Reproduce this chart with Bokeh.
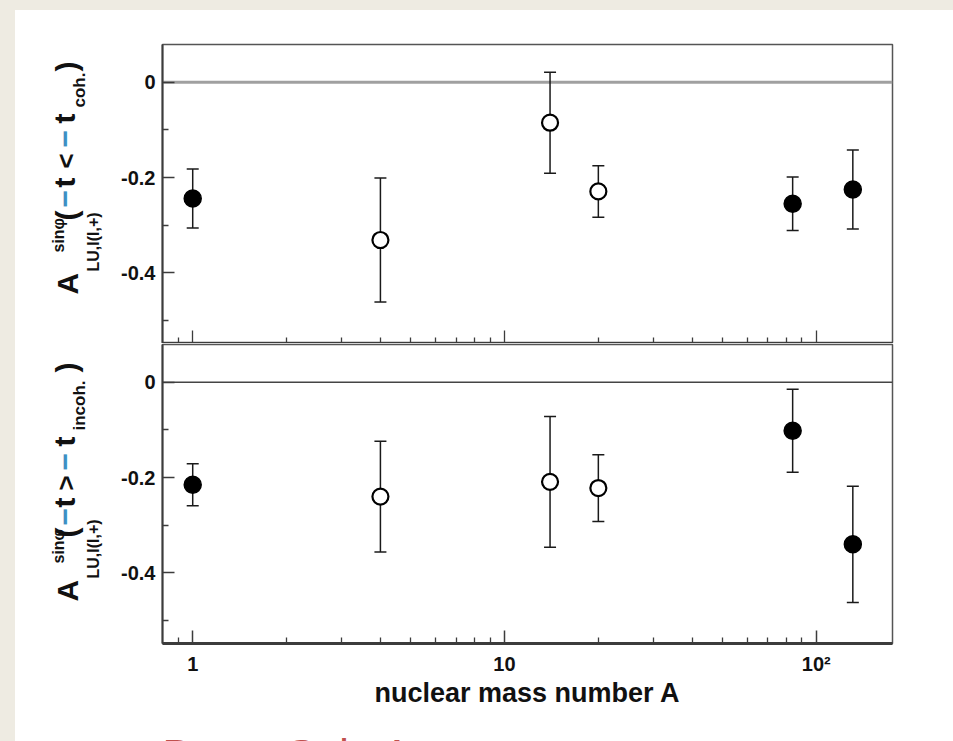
import math
from bokeh.plotting import figure
from bokeh.models import (Range1d, FixedTicker, Whisker, TeeHead, Span, Label,
                          ColumnDataSource, Div, LogAxis)
from bokeh.layouts import column, row
from bokeh.embed import file_html
from bokeh.resources import INLINE

# ---------------- data ----------------
mass_number = [1, 4, 14, 20, 84, 131]
target = ["H", "He", "N", "Ne", "Kr", "Xe"]
filled_marker = [True, False, False, False, True, True]

asym_coh = [-0.244, -0.331, -0.085, -0.229, -0.255, -0.225]
err_coh = [0.062, 0.130, 0.106, 0.054, 0.056, 0.083]

asym_incoh = [-0.215, -0.240, -0.209, -0.222, -0.102, -0.340]
err_incoh = [0.044, 0.116, 0.137, 0.070, 0.087, 0.122]

y_ticks = [-0.4, -0.2, 0.0]
y_tick_labels = ["-0.4", "-0.2", "0"]
y_minor = [-0.5, -0.3, -0.1]
x_ticks = [1, 10, 100]
x_tick_labels = ["1", "10", "10²"]
x_minor = [0.9, 2, 3, 4, 5, 6, 7, 8, 9, 20, 30, 40, 50, 60, 70, 80, 90]

x_title = "nuclear mass number A"
caption = "Beam Spin Asymmetry"

FONT = "Liberation Sans"
BEIGE = "#eeebe2"
INK = "#111111"
AXC = "#3c3c3c"

LAB_W = 92           # width of the label strip left of each panel
FRAME_H = 299
TOP_BORDER = 34
BOT_BORDER = 70
TOP_H = TOP_BORDER + FRAME_H
BOT_H = 1 + FRAME_H + BOT_BORDER
CAP_H = 741 - 10 - TOP_H - BOT_H


def style_tick_axis(ax, major_in, minor_in):
    ax.major_tick_in = major_in
    ax.major_tick_out = 0
    ax.minor_tick_in = minor_in
    ax.minor_tick_out = 0
    ax.major_tick_line_color = AXC
    ax.major_tick_line_width = 1.5
    ax.minor_tick_line_color = AXC
    ax.minor_tick_line_width = 1.3


def make_panel(vals, errs, border_top, border_bottom, zero_color, zero_width, show_x):
    p = figure(x_axis_type="log", x_range=Range1d(0.8, 175.6),
               y_range=Range1d(-0.548, 0.079),
               frame_width=730, frame_height=FRAME_H,
               min_border_left=55, min_border_right=61,
               min_border_top=border_top, min_border_bottom=border_bottom,
               output_backend="svg", toolbar_location=None,
               background_fill_color="white", border_fill_color="white")
    p.xgrid.visible = False
    p.ygrid.visible = False
    p.outline_line_color = "#555555"
    p.outline_line_width = 1.5

    yax = p.yaxis[0]
    yax.ticker = FixedTicker(ticks=y_ticks, minor_ticks=y_minor)
    yax.major_label_overrides = dict(zip(y_ticks, y_tick_labels))
    style_tick_axis(yax, 12, 6)
    yax.major_label_standoff = 7
    yax.major_label_text_font = FONT
    yax.major_label_text_font_size = "20px"
    yax.major_label_text_font_style = "bold"
    yax.major_label_text_color = INK
    yax.axis_line_color = AXC
    yax.axis_line_width = 2

    xax = p.xaxis[0]
    xax.axis_line_color = AXC
    xax.axis_line_width = 3
    if show_x:
        xax.ticker = FixedTicker(ticks=x_ticks, minor_ticks=x_minor)
        xax.major_label_overrides = dict(zip(x_ticks, x_tick_labels))
        style_tick_axis(xax, 13, 6)
        xax.major_label_standoff = 9
        xax.major_label_text_font = FONT
        xax.major_label_text_font_size = "20px"
        xax.major_label_text_font_style = "bold"
        xax.major_label_text_color = INK
        xax.axis_label = x_title
        xax.axis_label_standoff = 0
        xax.axis_label_text_font = FONT
        xax.axis_label_text_font_size = "27px"
        xax.axis_label_text_font_style = "bold"
        xax.axis_label_text_color = INK
    else:
        # ticks only, no labels: short ticks on the main axis,
        # long decade ticks on a second, label-free axis
        xax.ticker = FixedTicker(ticks=[], minor_ticks=x_minor)
        style_tick_axis(xax, 13, 6)
        xax.major_label_standoff = 0
        dec = LogAxis(ticker=FixedTicker(ticks=[], minor_ticks=x_ticks),
                      axis_line_color=None, major_label_standoff=0)
        style_tick_axis(dec, 13, 13)
        p.add_layout(dec, "below")

    p.add_layout(Span(location=0, dimension="width", line_color=zero_color,
                      line_width=zero_width, level="underlay"))

    src = ColumnDataSource(dict(
        x=mass_number,
        lower=[v - e for v, e in zip(vals, errs)],
        upper=[v + e for v, e in zip(vals, errs)],
    ))
    w = Whisker(base="x", lower="lower", upper="upper", source=src,
                dimension="height", line_color="#1a1a1a", line_width=1.5,
                upper_head=TeeHead(size=12, line_color="#1a1a1a", line_width=1.5),
                lower_head=TeeHead(size=12, line_color="#1a1a1a", line_width=1.5),
                level="underlay")
    p.add_layout(w)

    fx = [a for a, f in zip(mass_number, filled_marker) if f]
    fy = [v for v, f in zip(vals, filled_marker) if f]
    ox = [a for a, f in zip(mass_number, filled_marker) if not f]
    oy = [v for v, f in zip(vals, filled_marker) if not f]
    p.scatter(fx, fy, marker="circle", size=17, fill_color="black",
              line_color="black", line_width=1.5)
    p.scatter(ox, oy, marker="circle", size=16, fill_color="white",
              line_color="black", line_width=2.2)
    return p


def blank_fig(w, h, b_top=0, b_bottom=0):
    f = figure(frame_width=w, frame_height=h,
               x_range=Range1d(0, w), y_range=Range1d(0, h),
               min_border_left=0, min_border_right=0,
               min_border_top=b_top, min_border_bottom=b_bottom,
               x_axis_location=None, y_axis_location=None,
               toolbar_location=None, output_backend="svg",
               outline_line_color=None, background_fill_color="white",
               border_fill_color="white")
    f.grid.visible = False
    return f


def label_fig(b_top, b_bottom, y0, comparator, sub, off):
    # rotated composite label: A^{sinφ}_{LU,I(l,+)} ( −t cmp −t_sub )
    f = blank_fig(LAB_W, FRAME_H, b_top, b_bottom)

    def lab(text, size, xb, y, color=INK):
        f.add_layout(Label(x=xb - 0.4 * size, y=y, text=text, angle=math.pi / 2,
                           text_align="left", text_baseline="alphabetic",
                           text_font=FONT, text_font_size=f"{size}px",
                           text_font_style="bold", text_color=color))
    minus_col = "#3d8fc4"
    lab("A", 30, 64, y0)
    lab("LU,I(l,+)", 16, 84, y0 + off["LU"])
    lab("sinφ", 16, 49, y0 + off["sin"])
    lab("(", 30, 63, y0 + off["("])
    lab("−", 30, 61, y0 + off["m1"], color=minus_col)
    lab("t", 30, 61, y0 + off["t1"])
    lab(comparator, 26, 61, y0 + off["cmp"])
    lab("−", 30, 61, y0 + off["m2"], color=minus_col)
    lab("t", 30, 61, y0 + off["t2"])
    lab(sub, 17, 71, y0 + off["sub"])
    lab(")", 30, 63, y0 + off[")"])
    return f


top = make_panel(asym_coh, err_coh, TOP_BORDER, 0, "#a0a0a0", 3, False)
top_lab = label_fig(TOP_BORDER, 0, 49, "<", "coh.",
                    {"LU": 23, "sin": 42, "(": 74, "m1": 87, "t1": 107,
                     "cmp": 126, "m2": 147, "t2": 171, "sub": 187, ")": 223})

bottom = make_panel(asym_incoh, err_incoh, 1, BOT_BORDER, "#444444", 1.5, True)
bot_lab = label_fig(1, BOT_BORDER, 42, ">", "incoh.",
                    {"LU": 23, "sin": 38, "(": 64, "m1": 76, "t1": 94,
                     "cmp": 111, "m2": 131, "t2": 155, "sub": 171, ")": 229})

cap_fig = blank_fig(938, CAP_H)
cap_fig.add_layout(Label(x=147, y=CAP_H - 16, text=caption, text_font=FONT,
                         text_font_size="43px", text_color="#c0504d",
                         text_baseline="top"))

left_strip = Div(text="", width=15, height=741, margin=0,
                 styles={"background-color": BEIGE})
top_strip = Div(text="", width=938, height=10, margin=0,
                styles={"background-color": BEIGE})

layout = row(left_strip,
             column(top_strip,
                    row(top_lab, top, spacing=0),
                    row(bot_lab, bottom, spacing=0),
                    cap_fig, spacing=0),
             spacing=0)

open("out.html", "w").write(file_html(layout, INLINE))
